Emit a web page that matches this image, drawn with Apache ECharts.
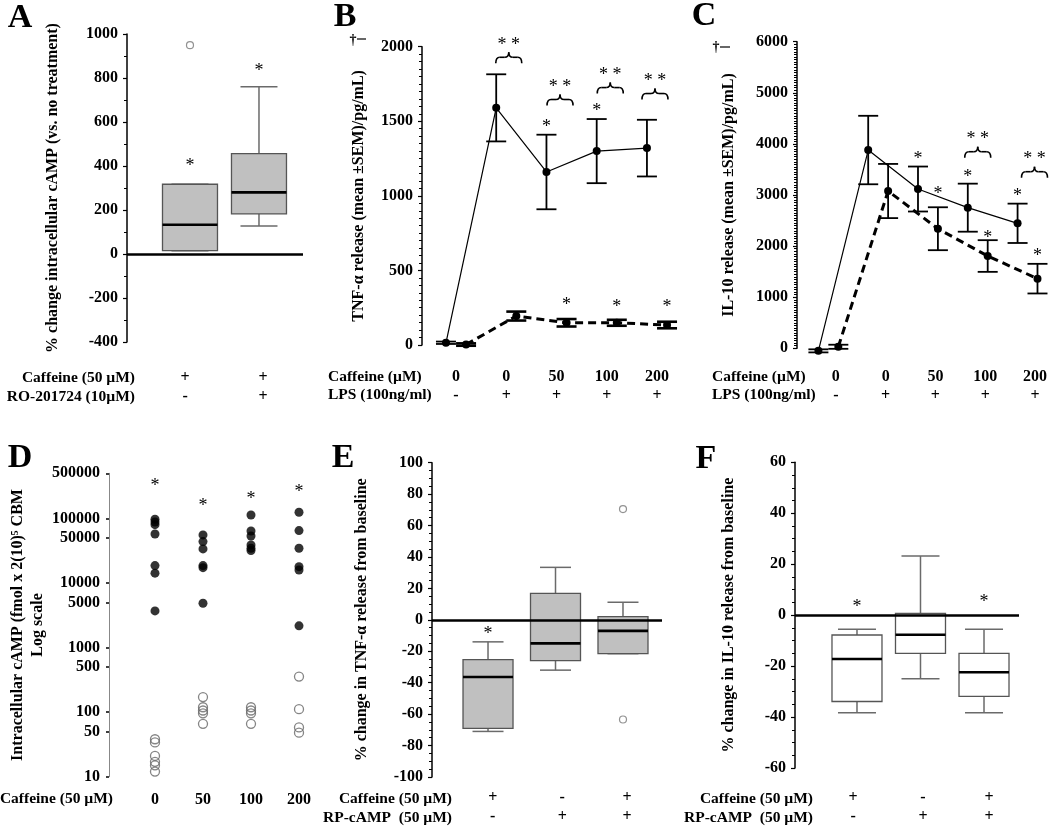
<!DOCTYPE html>
<html><head><meta charset="utf-8">
<script src="https://cdn.jsdelivr.net/npm/echarts@6/dist/echarts.min.js"></script>
<style>html,body{margin:0;padding:0;background:#fff}#c{width:1050px;height:826px}</style>
</head><body><div id="c"></div>
<script>
const FONT = "'Liberation Serif','Times New Roman',serif";

// ---------- Panel A : % change intracellular cAMP ----------
const aCaffeine = ['+', '+'];
const aRO201724 = ['-', '+'];
// [min, q1, median, q3, max]
const aBoxes = [[15, 15, 133, 317, 317], [127, 182, 280, 456, 760]];
const aOutliers = [[0, 949]];
const aStars = [[0, 412], [1, 845]];

// ---------- Panel B : TNF-alpha release ----------
const bCaffeine = ['0', '0', '50', '100', '200'];
const bLPS = ['-', '+', '+', '+', '+'];
const bSolidMean = [15, 1590, 1160, 1300, 1320];
const bSolidSem = [8, 225, 250, 215, 190];
const bDashMean = [3, 194, 149, 149, 134];
const bDashSem = [8, 30, 25, 20, 22];
const bSolidStars = [[2, 1480], [3, 1587]];
const bDashStars = [[2, 288], [3, 275], [4, 275]];
const bBraces = [[1.05, 1929], [2.07, 1646], [3.07, 1726], [3.96, 1686]];

// ---------- Panel C : IL-10 release ----------
const cCaffeine = ['0', '0', '50', '100', '200'];
const cLPS = ['-', '+', '+', '+', '+'];
const cSolidMean = [-50, 3880, 3117, 2752, 2446];
const cSolidSem = [30, 670, 440, 470, 385];
const cDashMean = [30, 3078, 2340, 1806, 1363];
const cDashSem = [40, 530, 420, 310, 290];
const cSolidStars = [[2, 3763], [3, 3411], [4, 3039]];
const cDashStars = [[2, 3080], [3, 2217], [4, 1865]];
const cBraces = [[2.85, 3847], [3.99, 3456]];

// ---------- Panel D : intracellular cAMP (log) ----------
const dCaffeine = ['0', '50', '100', '200'];
const dFilled = [
  [97000, 88000, 80000, 57500, 18600, 14200, 3700],
  [55500, 43800, 33700, 18600, 17300, 4860],
  [113000, 64000, 53500, 38900, 34500, 31800],
  [124500, 64800, 34500, 17900, 15900, 2170]
];
const dOpen = [
  [38, 34, 21, 17, 15, 12],
  [171, 119, 106, 96, 66],
  [119, 106, 96, 66],
  [356, 111, 58, 48]
];
const dStars = [354000, 173000, 223000, 286000];
const dTickValues = [10, 50, 100, 500, 1000, 5000, 10000, 50000, 100000, 500000];

// ---------- Panel E : % change TNF-alpha ----------
const eCaffeine = ['+', '-', '+'];
const eRPcAMP = ['-', '+', '+'];
const eBoxes = [[-71, -69, -36.4, -25.3, -14], [-32, -26, -15, 16.9, 33.4], [-21.5, -21.5, -7, 2.1, 11.2]];
const eOutliers = [[2, 70.5], [2, -63.4]];
const eStars = [[0, -7]];

// ---------- Panel F : % change IL-10 ----------
const fCaffeine = ['+', '-', '+'];
const fRPcAMP = ['-', '+', '+'];
const fBoxes = [[-38.3, -33.9, -17.2, -7.8, -5.5], [-25, -15, -7.7, 0.65, 23.2], [-38.3, -31.9, -22.4, -15, -5.5]];
const fStars = [[0, 4.3], [2, 6.2]];

// ================= layout / helpers =================
const chart = echarts.init(document.getElementById('c'), null, {renderer: 'canvas'});
const LBL = {fontFamily: FONT, fontWeight: 'bold', fontSize: 16, color: '#000'};
const plain = v => String(v);

// labelShift: small horizontal nudges of the label columns (layout only)
function xAx(gi, min, max, rows, margin, labelShift) {
  const n = rows[0].length;
  const shift = labelShift || [];
  return {
    type: 'value', gridIndex: gi, min: min, max: max,
    axisLine: {show: false}, axisTick: {show: false}, splitLine: {show: false},
    axisLabel: Object.assign({
      customValues: Array.from({length: n}, (_, i) => i + (shift[i] || 0)),
      formatter: v => rows.map(r => r[Math.round(v)]).join('\n'),
      margin: margin, lineHeight: 19
    }, LBL)
  };
}
function yAx(gi, o) {
  return Object.assign({
    type: 'value', gridIndex: gi,
    axisLine: {show: true, onZero: false, lineStyle: {color: '#000', width: 1.5}},
    axisTick: {show: true, length: 4, lineStyle: {color: '#000', width: 1.2}},
    minorTick: {show: !!o.minor, splitNumber: o.minor || 1, length: 3, lineStyle: {color: '#000', width: 1}},
    splitLine: {show: false}, minorSplitLine: {show: false},
    axisLabel: Object.assign({margin: o.margin || 9, formatter: plain}, LBL),
    nameLocation: 'middle', nameGap: o.nameGap,
    nameTextStyle: {fontFamily: FONT, fontWeight: 'bold', fontSize: 16, color: '#000', lineHeight: 20}
  }, o.extra || {});
}

function zeroLine(gi) {
  return {type: 'scatter', xAxisIndex: gi, yAxisIndex: gi, data: [], z: 1, silent: true,
    markLine: {silent: true, symbol: ['none', 'none'], label: {show: false}, animation: false,
      lineStyle: {color: '#000', width: 2.5, type: 'solid'}, emphasis: {disabled: true},
      data: [{yAxis: 0}]}};
}
function boxSeries(gi, boxes, boxW, capW, fill) {
  return {type: 'custom', xAxisIndex: gi, yAxisIndex: gi, z: 3, silent: true, clip: false,
    encode: {x: 0, y: 3},
    data: boxes.map((b, i) => [i].concat(b)),
    renderItem: (params, api) => {
      const x = api.value(0);
      const pMin = api.coord([x, api.value(1)]), pQ1 = api.coord([x, api.value(2)]),
            pMed = api.coord([x, api.value(3)]), pQ3 = api.coord([x, api.value(4)]),
            pMax = api.coord([x, api.value(5)]);
      const cx = pMin[0];
      const ws = {stroke: '#6a6a6a', lineWidth: 1.5};
      const L = (x1, y1, x2, y2, s) => ({type: 'line', shape: {x1, y1, x2, y2}, style: s});
      return {type: 'group', children: [
        L(cx, pQ3[1], cx, pMax[1], ws),
        L(cx - capW / 2, pMax[1], cx + capW / 2, pMax[1], ws),
        L(cx, pQ1[1], cx, pMin[1], ws),
        L(cx - capW / 2, pMin[1], cx + capW / 2, pMin[1], ws),
        {type: 'rect', shape: {x: cx - boxW / 2, y: pQ3[1], width: boxW, height: pQ1[1] - pQ3[1]},
          style: {fill: fill, stroke: '#555', lineWidth: 1.3}},
        L(cx - boxW / 2, pMed[1], cx + boxW / 2, pMed[1], {stroke: '#000', lineWidth: 2.6})
      ]};
    }};
}
function outlierSeries(gi, pts) {
  return {type: 'scatter', xAxisIndex: gi, yAxisIndex: gi, z: 4, silent: true, data: pts,
    symbol: 'circle', symbolSize: 7, itemStyle: {color: '#fff', borderColor: '#777', borderWidth: 1.2}};
}
function textSeries(gi, pts, txt, size, off) {
  return {type: 'custom', xAxisIndex: gi, yAxisIndex: gi, z: 6, silent: true, clip: false,
    encode: {x: 0, y: 1}, data: pts,
    renderItem: (params, api) => {
      const p = api.coord([api.value(0) + (off || 0), api.value(1)]);
      return {type: 'text', x: p[0], y: p[1] + 3,
        style: {text: txt, fill: '#000', font: size + 'px ' + FONT, align: 'center', verticalAlign: 'middle',
          textAlign: 'center', textVerticalAlign: 'middle'}};
    }};
}
function braceSeries(gi, pts, halfW) {
  return {type: 'custom', xAxisIndex: gi, yAxisIndex: gi, z: 6, silent: true, clip: false,
    encode: {x: 0, y: 1}, data: pts,
    renderItem: (params, api) => {
      const p = api.coord([api.value(0), api.value(1)]);
      const xa = p[0] - halfW, xb = p[0] + halfW, xm = p[0], y = p[1];
      const s = {stroke: '#000', lineWidth: 1.6, fill: null};
      const Q = (x1, y1, cx, cy, x2, y2) => ({type: 'bezierCurve', shape: {x1, y1, x2, y2, cpx1: cx, cpy1: cy}, style: s});
      const L = (x1, y1, x2, y2) => ({type: 'line', shape: {x1, y1, x2, y2}, style: s});
      return {type: 'group', children: [
        Q(xa, y + 6, xa, y, xa + 4, y), L(xa + 4, y, xm - 4, y), Q(xm - 4, y, xm, y, xm, y - 5),
        Q(xm, y - 5, xm, y, xm + 4, y), L(xm + 4, y, xb - 4, y), Q(xb - 4, y, xb, y, xb, y + 6),
        {type: 'text', x: xm, y: y - 12, style: {text: '* *', fill: '#000', font: '18px ' + FONT,
          align: 'center', verticalAlign: 'middle', textAlign: 'center', textVerticalAlign: 'middle'}}
      ]};
    }};
}
function errSeries(gi, means, sems, off, lw, capW) {
  return {type: 'custom', xAxisIndex: gi, yAxisIndex: gi, z: 2, silent: true, clip: false,
    encode: {x: 0, y: 1},
    data: means.map((m, i) => [i + off, m, sems[i]]),
    renderItem: (params, api) => {
      const x = api.value(0), m = api.value(1), e = api.value(2);
      const t = api.coord([x, m + e]), b = api.coord([x, m - e]);
      const s = {stroke: '#000', lineWidth: lw};
      return {type: 'group', children: [
        {type: 'line', shape: {x1: t[0], y1: t[1], x2: b[0], y2: b[1]}, style: s},
        {type: 'line', shape: {x1: t[0] - capW / 2, y1: t[1], x2: t[0] + capW / 2, y2: t[1]}, style: s},
        {type: 'line', shape: {x1: b[0] - capW / 2, y1: b[1], x2: b[0] + capW / 2, y2: b[1]}, style: s}
      ]};
    }};
}
function lineSeries(gi, means, off, dashed) {
  return {type: 'line', xAxisIndex: gi, yAxisIndex: gi, z: 4, silent: true, clip: false,
    data: means.map((m, i) => [i + off, m]),
    symbol: 'circle', symbolSize: 8, showSymbol: true,
    itemStyle: {color: '#000'},
    lineStyle: dashed ? {color: '#000', width: 3, type: [8, 5]} : {color: '#000', width: 1.2}};
}

const B_SOLID = -0.2, B_DASH = 0.2, C_SOLID = -0.35, C_DASH = 0.05;
const STAR = 18;

const option = {
  animation: false,
  backgroundColor: '#fff',
  grid: [
    {left: 127, top: 34, width: 176, height: 308},
    {left: 422, top: 46.7, width: 268, height: 298.3},
    {left: 797, top: 41.7, width: 253, height: 306.6},
    {left: 109, top: 473.3, width: 231, height: 303.4},
    {left: 432, top: 462.7, width: 230, height: 315.6},
    {left: 795, top: 462.3, width: 224, height: 307}
  ],
  xAxis: [
    xAx(0, -0.913, 1.638, [aCaffeine, aRO201724], 26, [-0.07, 0.06]),
    xAx(1, -0.677, 4.657, [bCaffeine, bLPS], 22),
    xAx(2, -0.78, 4.28, [cCaffeine, cLPS], 19),
    xAx(3, -0.958, 3.854, [dCaffeine], 14),
    xAx(4, -0.830, 2.578, [eCaffeine, eRPcAMP], 11, [0.07, 0.1, 0.06]),
    xAx(5, -0.976, 2.551, [fCaffeine, fRPcAMP], 20, [-0.06, 0.04, 0.08])
  ],
  yAxis: [
    yAx(0, {minor: 2, nameGap: 64, extra: {min: -400, max: 1000, interval: 200,
      name: '% change intracellular cAMP (vs. no treatment)'}}),
    yAx(1, {minor: 10, nameGap: 53, extra: {min: 0, max: 2000, interval: 500,
      name: 'TNF-α release (mean ±SEM)/pg/mL)'}}),
    yAx(2, {minor: 20, nameGap: 58, extra: {min: 0, max: 6000, interval: 1000,
      name: 'IL-10 release (mean ±SEM)/pg/mL)'}}),
    yAx(3, {nameGap: 56, extra: {type: 'log', logBase: 10, min: 10, max: 500000,
      name: 'Intracellular cAMP (fmol x 2(10)\u2075 CBM\nLog scale',
      axisLine: {show: true, onZero: false, lineStyle: {color: '#888', width: 1}},
      axisTick: {show: true, length: 3, customValues: dTickValues, lineStyle: {color: '#000', width: 1.5}},
      axisLabel: Object.assign({margin: 9, customValues: dTickValues, formatter: plain}, LBL)}}),
    yAx(4, {minor: 4, nameGap: 60, extra: {min: -100, max: 100, interval: 20,
      name: '% change in TNF-α release from baseline'}}),
    yAx(5, {minor: 4, nameGap: 56, extra: {min: -60, max: 60, interval: 20,
      name: '% change in IL-10 release from baseline'}})
  ],
  series: [
    // A
    zeroLine(0),
    boxSeries(0, aBoxes, 55, 37, '#c0c0c0'),
    outlierSeries(0, aOutliers),
    textSeries(0, aStars, '*', STAR),
    // B
    errSeries(1, bSolidMean, bSolidSem, B_SOLID, 1.8, 20),
    errSeries(1, bDashMean, bDashSem, B_DASH, 2.6, 20),
    lineSeries(1, bSolidMean, B_SOLID, false),
    lineSeries(1, bDashMean, B_DASH, true),
    textSeries(1, bSolidStars, '*', STAR, B_SOLID),
    textSeries(1, bDashStars, '*', STAR, B_DASH),
    braceSeries(1, bBraces, 13),
    // C
    errSeries(2, cSolidMean, cSolidSem, C_SOLID, 1.8, 20),
    errSeries(2, cDashMean, cDashSem, C_DASH, 1.8, 20),
    lineSeries(2, cSolidMean, C_SOLID, false),
    lineSeries(2, cDashMean, C_DASH, true),
    textSeries(2, cSolidStars, '*', STAR, C_SOLID),
    textSeries(2, cDashStars, '*', STAR, C_DASH),
    braceSeries(2, cBraces, 13),
    // D
    {type: 'scatter', xAxisIndex: 3, yAxisIndex: 3, z: 4, silent: true,
      data: dFilled.flatMap((vals, i) => vals.map(v => [i, v])),
      symbol: 'circle', symbolSize: 9, itemStyle: {color: '#000'}},
    {type: 'scatter', xAxisIndex: 3, yAxisIndex: 3, z: 4, silent: true,
      data: dOpen.flatMap((vals, i) => vals.map(v => [i, v])),
      symbol: 'circle', symbolSize: 9, itemStyle: {color: 'rgba(255,255,255,0)', borderColor: '#666', borderWidth: 1.3}},
    textSeries(3, dStars.map((v, i) => [i, v]), '*', STAR),
    // E
    zeroLine(4),
    boxSeries(4, eBoxes, 50, 31, '#c0c0c0'),
    outlierSeries(4, eOutliers),
    textSeries(4, eStars, '*', STAR),
    // F
    zeroLine(5),
    boxSeries(5, fBoxes, 50, 38, '#fff'),
    textSeries(5, fStars, '*', STAR)
  ],
  graphic: (function () {
    const T = (x, y, text, font, align) => ({type: 'text', x: x, y: y, silent: true,
      style: {text: text, font: font, fill: '#000', align: align, verticalAlign: 'middle',
        textAlign: align, textVerticalAlign: 'middle'}});
    const big = 'bold 34px ' + FONT, lab = 'bold 15.5px ' + FONT;
    return [
      T(20, 18, 'A', big, 'center'), T(345, 17, 'B', big, 'center'), T(704, 16, 'C', big, 'center'),
      T(20, 458, 'D', big, 'center'), T(343, 458, 'E', big, 'center'), T(706, 459, 'F', big, 'center'),
      T(135, 378, 'Caffeine (50 µM)', lab, 'right'), T(135, 397, 'RO-201724 (10µM)', lab, 'right'),
      T(328, 377, 'Caffeine (µM)', lab, 'left'), T(328, 395, 'LPS (100ng/ml)', lab, 'left'),
      T(712, 377, 'Caffeine (µM)', lab, 'left'), T(712, 395, 'LPS (100ng/ml)', lab, 'left'),
      T(113, 799, 'Caffeine (50 µM)', lab, 'right'),
      T(452, 799, 'Caffeine (50 µM)', lab, 'right'), T(452, 818, 'RP-cAMP  (50 µM)', lab, 'right'),
      T(813, 799, 'Caffeine (50 µM)', lab, 'right'), T(813, 818, 'RP-cAMP  (50 µM)', lab, 'right'),
      T(353, 40, '†', 'bold 14px ' + FONT, 'center'),
      {type: 'line', silent: true, shape: {x1: 357, y1: 39, x2: 366, y2: 39}, style: {stroke: '#000', lineWidth: 1.2}},
      T(716, 47, '†', 'bold 14px ' + FONT, 'center'),
      {type: 'line', silent: true, shape: {x1: 720, y1: 47, x2: 730, y2: 47}, style: {stroke: '#000', lineWidth: 1.2}}
    ];
  })()
};
chart.setOption(option);
</script></body></html>
